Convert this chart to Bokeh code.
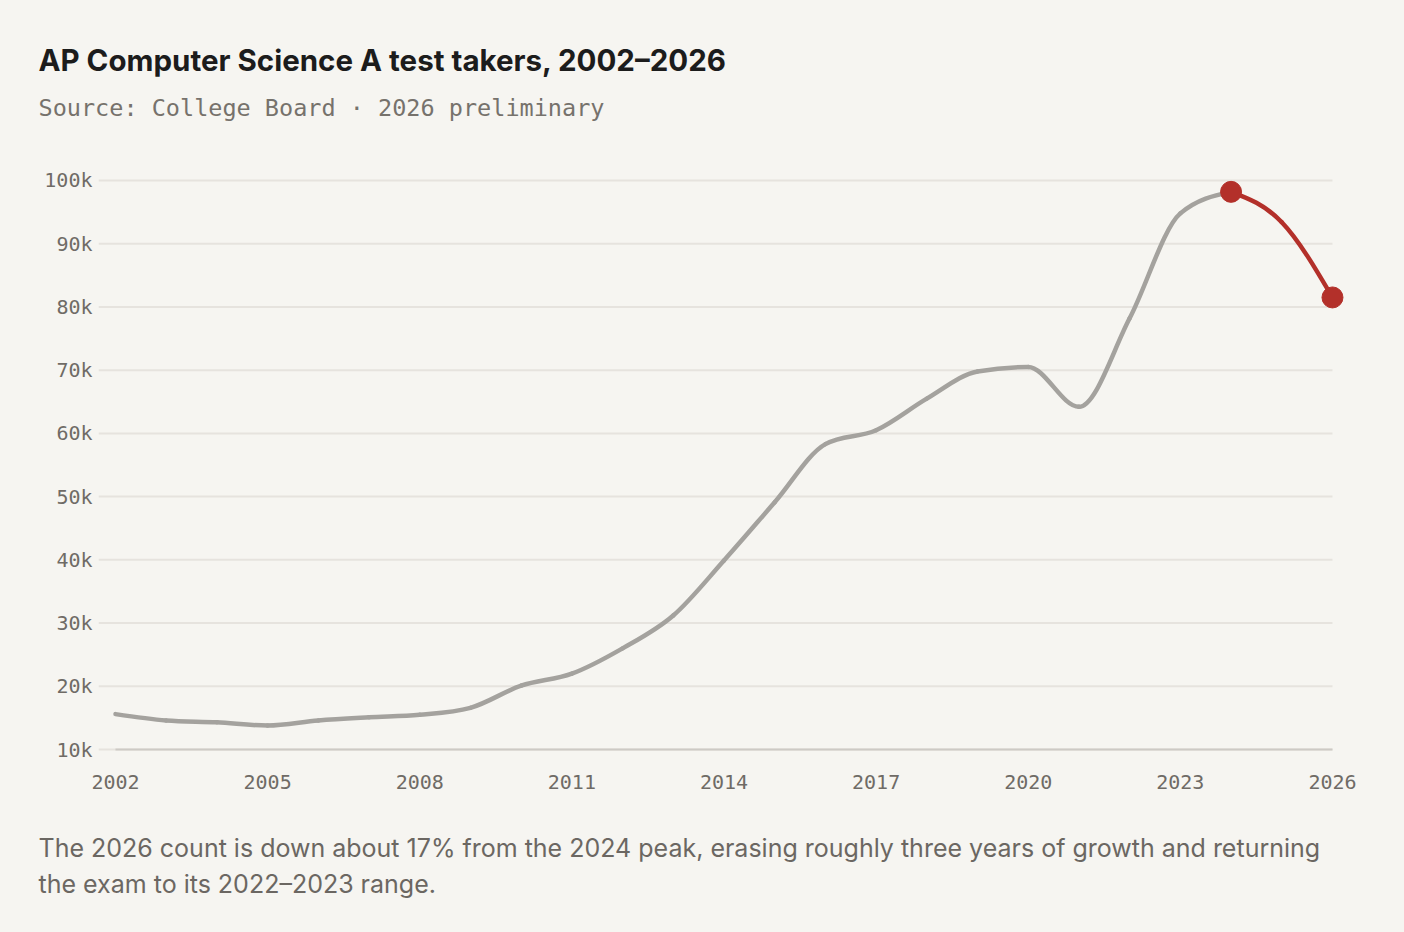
import numpy as np
from bokeh.plotting import figure
from bokeh.models import Range1d, Title, FixedTicker
from bokeh.embed import file_html
from bokeh.resources import INLINE

# ---------------- data (thousands of test takers) ----------------
YEARS = list(range(2002, 2027))
TAKERS = [15.6, 14.6, 14.3, 13.8, 14.6, 15.1, 15.5, 16.6, 20.1, 22.0,
          26.0, 31.2, 39.9, 49.1, 58.3, 60.5, 65.5, 69.8, 70.5, 64.2,
          78.2, 94.8, 98.2, 93.4, 81.5]
X_TICKS = [2002, 2005, 2008, 2011, 2014, 2017, 2020, 2023, 2026]
Y_TICKS = [10, 20, 30, 40, 50, 60, 70, 80, 90, 100]
Y_LABELS = ["10k", "20k", "30k", "40k", "50k", "60k", "70k", "80k", "90k", "100k"]
HIGHLIGHT_FROM = 2024

TITLE = "AP Computer Science A test takers, 2002\u20132026"
SUBTITLE = "Source: College Board \u00b7 2026 preliminary"
CAPTION_1 = ("The 2026 count is down about 17% from the 2024 peak, erasing roughly "
             "three years of growth and returning")
CAPTION_2 = "the exam to its 2022\u20132023 range."

# ---------------- styles ----------------
BG = "#f6f5f1"
GRAY = "#a4a29e"
RED = "#b3302a"
GRID = "#e6e3de"
BASE = "#cdcac5"
TICK = "#6f6b66"
SANS = "Inter"
MONO = "DejaVu Sans Mono"


def monotone_beziers(xs, ys):
    """Cubic Bezier pieces of a monotone-x curve through the given points."""
    xs = np.asarray(xs, dtype=float)
    ys = np.asarray(ys, dtype=float)
    h = np.diff(xs)
    s = np.diff(ys) / h
    t = np.zeros(len(xs))
    for i in range(1, len(xs) - 1):
        pp = (s[i - 1] * h[i] + s[i] * h[i - 1]) / (h[i - 1] + h[i])
        t[i] = (np.sign(s[i - 1]) + np.sign(s[i])) * min(abs(s[i - 1]), abs(s[i]), 0.5 * abs(pp))
    t[0] = (3 * s[0] - t[1]) / 2
    t[-1] = (3 * s[-1] - t[-2]) / 2
    return dict(x0=xs[:-1], y0=ys[:-1], x1=xs[1:], y1=ys[1:],
                cx0=xs[:-1] + h / 3, cy0=ys[:-1] + h / 3 * t[:-1],
                cx1=xs[1:] - h / 3, cy1=ys[1:] - h / 3 * t[1:])


hi = YEARS.index(HIGHLIGHT_FROM)

p = figure(width=1404, height=932, output_backend="svg", toolbar_location=None,
           x_range=Range1d(2001.665, 2026.395), y_range=Range1d(7.95, 102.05),
           min_border_left=98, min_border_right=52, min_border_top=167,
           min_border_bottom=170)
p.background_fill_color = BG
p.border_fill_color = BG
p.outline_line_color = None
p.xgrid.visible = False
p.ygrid.visible = False

# gridlines
p.segment(x0=[p.x_range.start] * len(Y_TICKS), x1=[YEARS[-1]] * len(Y_TICKS),
          y0=Y_TICKS, y1=Y_TICKS, line_color=GRID, line_width=2)
# baseline
p.segment(x0=[YEARS[0]], x1=[YEARS[-1]], y0=[Y_TICKS[0]], y1=[Y_TICKS[0]],
          line_color=BASE, line_width=2)

# gray series up to the highlight year, red series from it
p.bezier(**monotone_beziers(YEARS[:hi + 1], TAKERS[:hi + 1]),
         line_color=GRAY, line_width=4.5, line_cap="round")
p.bezier(**monotone_beziers(YEARS[hi:], TAKERS[hi:]),
         line_color=RED, line_width=4.5, line_cap="round")
p.scatter(x=[YEARS[hi], YEARS[-1]], y=[TAKERS[hi], TAKERS[-1]], size=21,
          fill_color=RED, line_color=RED)

# axes
for ax in (p.xaxis, p.yaxis):
    ax.axis_line_color = None
    ax.major_tick_line_color = None
    ax.minor_tick_line_color = None
    ax.major_tick_out = 0
    ax.major_tick_in = 0
    ax.minor_tick_out = 0
    ax.major_label_text_font = MONO
    ax.major_label_text_font_size = "20px"
    ax.major_label_text_color = TICK
p.xaxis.ticker = FixedTicker(ticks=X_TICKS)
p.xaxis.major_label_overrides = {v: str(v) for v in X_TICKS}
p.xaxis.major_label_standoff = 12
p.yaxis.ticker = FixedTicker(ticks=Y_TICKS)
p.yaxis.major_label_overrides = dict(zip(Y_TICKS, Y_LABELS))
p.yaxis.major_label_standoff = 6


def spacer(st):
    return Title(text=" ", text_font_size="1px", standoff=st)


# above: first added is nearest to the plot frame
p.add_layout(spacer(30), "above")
p.add_layout(Title(text=SUBTITLE, align="left", offset=-60, standoff=25,
                   text_font=MONO, text_font_size="23.5px", text_font_style="normal",
                   text_color="#76726c"), "above")
p.add_layout(Title(text=TITLE, align="left", offset=-60, standoff=4,
                   text_font=SANS, text_font_size="29.5px", text_font_style="bold",
                   text_color="#1c1c1c"), "above")

# below: after the x axis
p.add_layout(spacer(34), "below")
p.add_layout(Title(text=CAPTION_1, align="left", offset=-60, standoff=4,
                   text_font=SANS, text_font_size="25px", text_font_style="normal",
                   text_color="#6b6762"), "below")
p.add_layout(Title(text=CAPTION_2, align="left", offset=-60, standoff=4,
                   text_font=SANS, text_font_size="25px", text_font_style="normal",
                   text_color="#6b6762"), "below")

html = file_html(p, INLINE)
html = html.replace("<head>", "<head><style>body{background:%s;}</style>" % BG, 1)
open("out.html", "w").write(html)
